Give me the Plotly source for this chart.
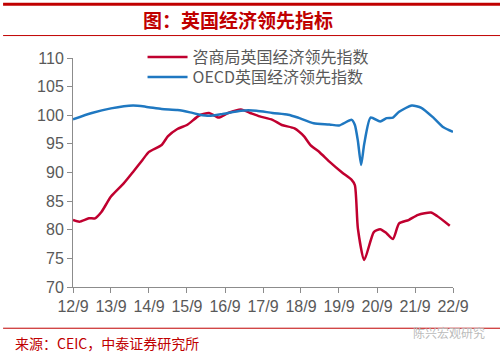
import plotly.graph_objects as go

# 咨商局英国经济领先指数
red_dates = ["2012-09","2012-11","2013-02","2013-04","2013-06","2013-09","2014-01","2014-04",
             "2014-07","2014-09","2015-01","2015-03","2015-06","2015-09","2016-01","2016-04",
             "2016-07","2016-10","2017-02","2017-05","2017-08","2017-12","2018-03","2018-07",
             "2018-10","2018-12","2019-03","2019-06","2019-10","2020-01","2020-02","2020-03",
             "2020-05","2020-08","2020-10","2020-12","2021-02","2021-04","2021-07","2021-10",
             "2022-02","2022-04","2022-08"]
red_vals = [81.7,81.4,82.0,82.0,83.1,85.8,88.1,90.1,
            92.2,93.6,94.8,96.3,97.6,98.3,100.0,100.4,
            99.6,100.4,101.0,100.4,99.8,99.2,98.3,97.7,
            96.3,94.8,93.5,91.9,90.0,88.7,87.8,80.2,
            74.7,79.6,80.1,79.4,78.4,81.1,81.7,82.6,
            83.0,82.4,80.7]

# OECD英国经济领先指数
blue_dates = ["2012-09","2013-03","2013-09","2014-04","2014-08","2015-01","2015-06","2015-10",
              "2016-01","2016-04","2016-08","2017-02","2017-07","2017-12","2018-05","2018-08",
              "2019-01","2019-06","2019-09","2020-01","2020-02","2020-03","2020-04","2020-05",
              "2020-07","2020-10","2020-12","2021-02","2021-04","2021-08","2021-11","2022-03",
              "2022-06","2022-09"]
blue_vals = [99.3,100.4,101.2,101.7,101.5,101.1,100.9,100.5,
             100.1,99.9,100.2,100.8,100.8,100.4,100.1,99.6,
             98.6,98.4,98.2,99.2,98.3,95.5,91.3,95.0,
             99.6,98.9,99.5,99.6,100.6,101.7,101.3,99.5,
             97.9,97.1]

tick_years = list(range(2012, 2023))
tick_vals = [f"{y}-09-01" for y in tick_years]
tick_text = [f"{y % 100}/9" for y in tick_years]

RED = "#C0002F"
BLUE = "#1F78C1"
GRAY = "#595959"
AXIS = "#8C8C8C"
TITLE_RED = "#C00000"

fig = go.Figure()
fig.add_trace(go.Scatter(x=red_dates, y=red_vals, mode="lines", name="咨商局英国经济领先指数",
                         legend="legend",
                         line=dict(color=RED, width=2.5, shape="spline", smoothing=0.6)))
fig.add_trace(go.Scatter(x=blue_dates, y=blue_vals, mode="lines", name="OECD英国经济领先指数",
                         legend="legend2",
                         line=dict(color=BLUE, width=2.5, shape="spline", smoothing=0.6)))

leg_common = dict(xanchor="left", yanchor="middle", bgcolor="rgba(0,0,0,0)",
                  font=dict(family="Noto Sans CJK SC, Liberation Sans", size=16, color=GRAY),
                  itemwidth=40)

fig.update_layout(
    width=500, height=356,
    margin=dict(l=73, r=47, t=58, b=69),
    paper_bgcolor="white", plot_bgcolor="white",
    font=dict(family="Liberation Sans, Arial, sans-serif", color=GRAY, size=16),
    showlegend=True,
    legend=dict(x=0.183, y=1.004, **leg_common),
    legend2=dict(x=0.183, y=0.917, **leg_common),
    xaxis=dict(type="date", range=["2012-09-01", "2022-09-01"], tickmode="array",
               tickvals=tick_vals, ticktext=tick_text, showgrid=False, zeroline=False,
               showline=True, linecolor=AXIS, linewidth=1, ticks="outside", ticklen=5,
               tickcolor=AXIS, tickfont=dict(size=16, color=GRAY)),
    yaxis=dict(range=[70, 110], tickvals=list(range(70, 111, 5)), showgrid=False,
               zeroline=False, showline=True, linecolor=AXIS, linewidth=1,
               ticks="outside", ticklen=5, tickcolor=AXIS, tickfont=dict(size=16, color=GRAY)),
)

# decorative frame lines (paper coordinates)
fig.add_shape(type="line", xref="paper", yref="paper", x0=-0.184, x1=1.16, y0=1.235, y1=1.235,
              line=dict(color=TITLE_RED, width=3))
fig.add_shape(type="line", xref="paper", yref="paper", x0=-0.184, x1=1.16, y0=1.098, y1=1.098,
              line=dict(color=TITLE_RED, width=1))
fig.add_shape(type="line", xref="paper", yref="paper", x0=-0.184, x1=1.16, y0=-0.18, y1=-0.18,
              line=dict(color=TITLE_RED, width=1))

fig.add_annotation(text="<b>图：英国经济领先指标</b>", xref="paper", yref="paper",
                   x=0.435, y=1.167, xanchor="center", yanchor="middle", showarrow=False,
                   font=dict(family="Noto Sans CJK SC", size=19, color=TITLE_RED))
fig.add_annotation(text="来源：CEIC，中泰证券研究所", xref="paper", yref="paper",
                   x=-0.158, y=-0.245, xanchor="left", yanchor="middle", showarrow=False,
                   font=dict(family="Noto Sans CJK SC", size=14, color=TITLE_RED))
fig.add_annotation(text="陈兴宏观研究", xref="paper", yref="paper",
                   x=0.89, y=-0.2, xanchor="left", yanchor="middle", showarrow=False,
                   font=dict(family="Noto Sans CJK SC", size=12, color="#BBBBBB"))

fig.write_html("out.html", config={"displayModeBar": False},
               post_script="document.body.style.margin='0';")
